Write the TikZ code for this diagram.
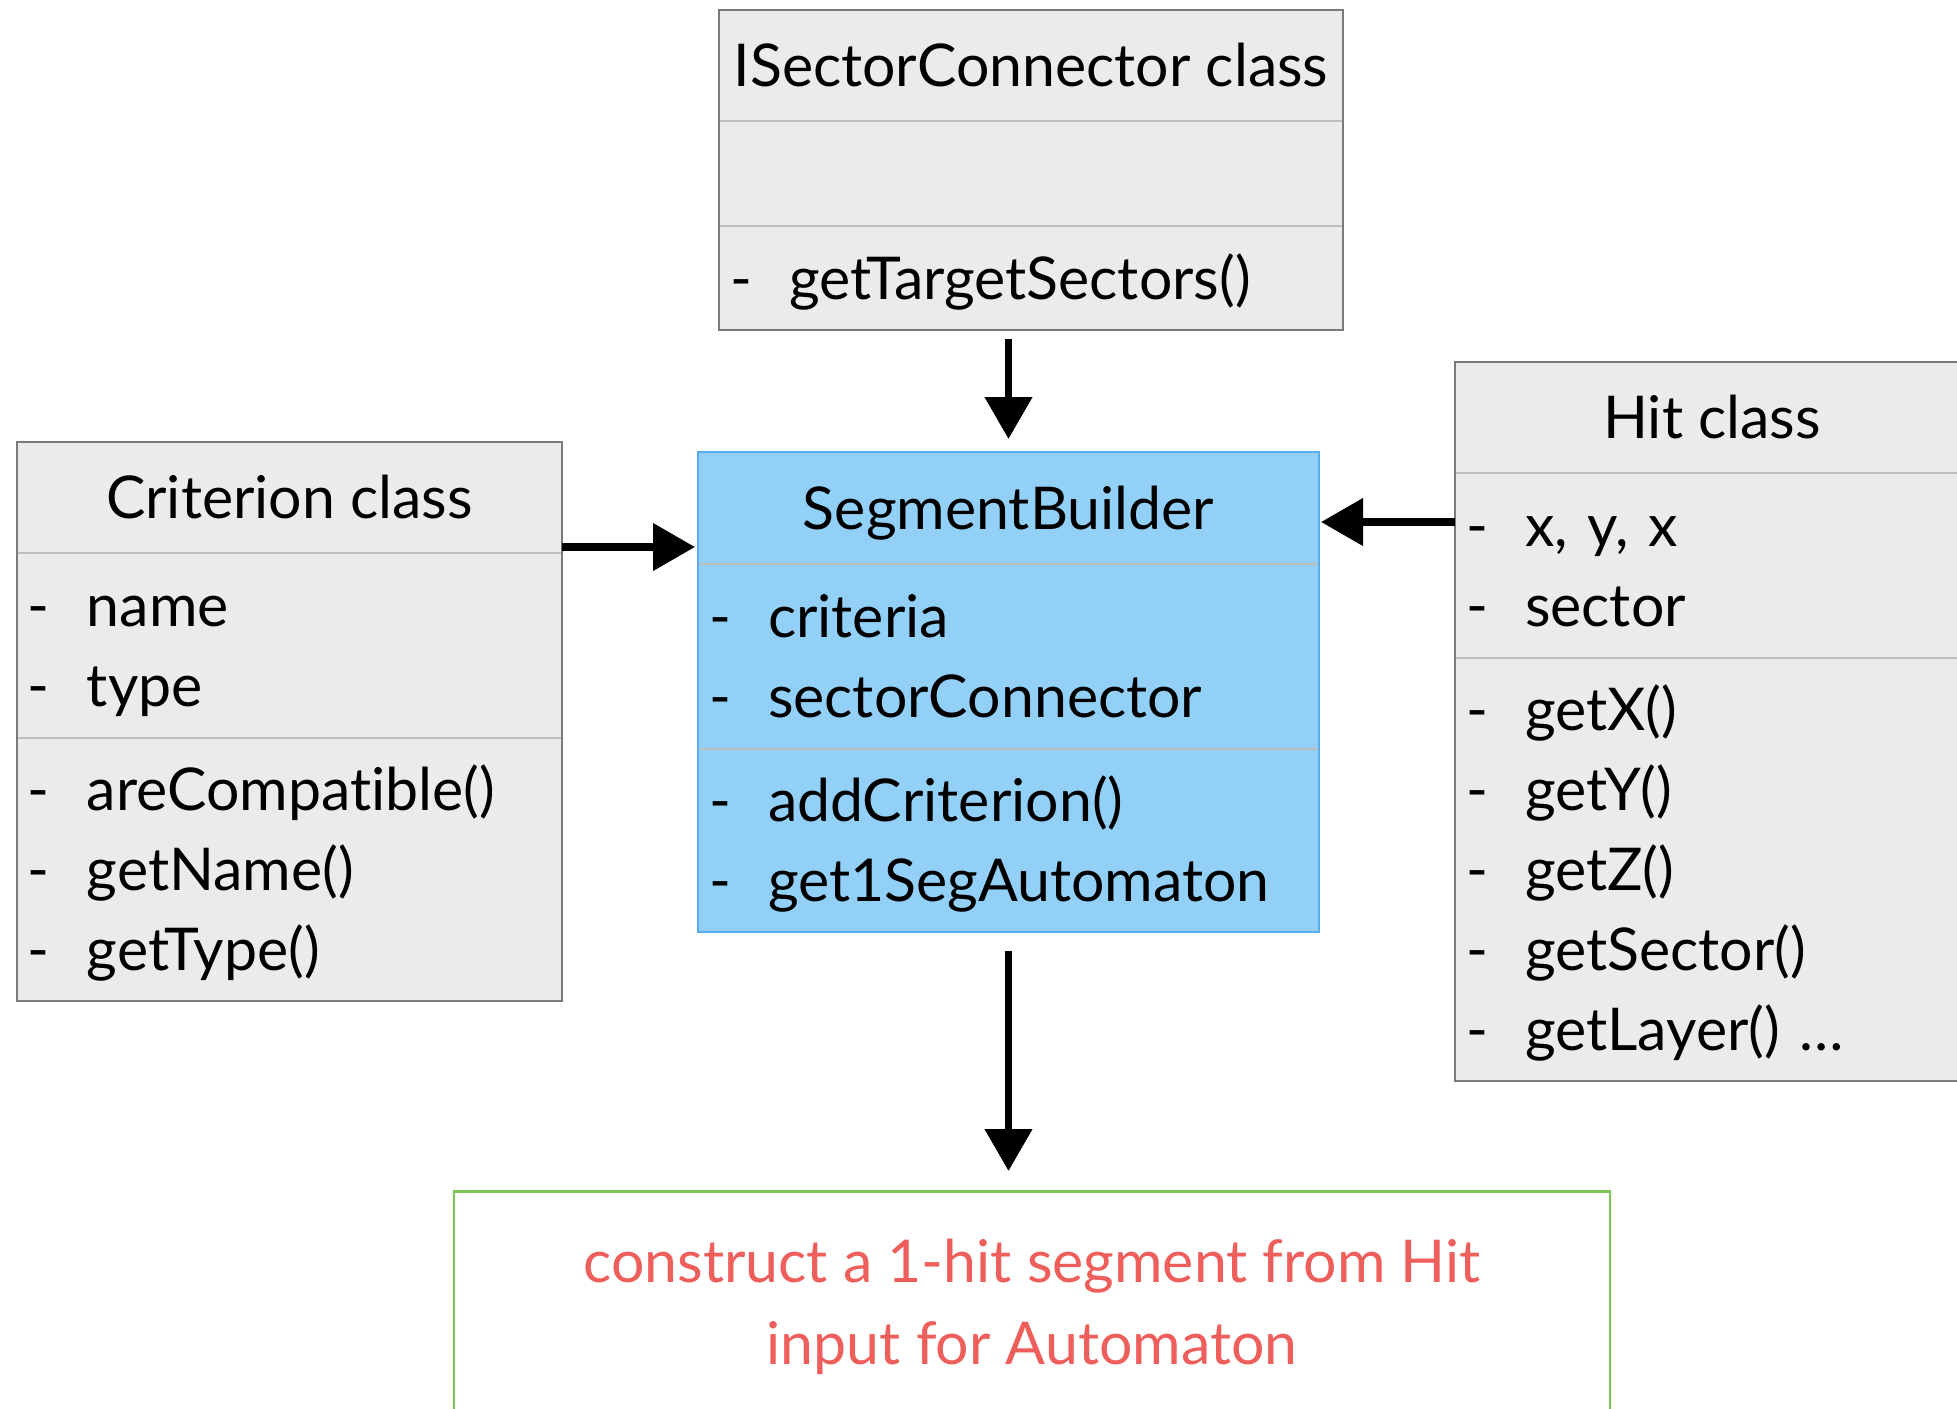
\documentclass[tikz,border=0pt]{standalone}
\usepackage{fontspec}
\setmainfont{Lato}[Ligatures=NoCommon]
\usetikzlibrary{arrows.meta, positioning}

\definecolor{boxgray}{HTML}{EBEBEB}
\definecolor{edgegray}{HTML}{7A7A7A}
\definecolor{rulegray}{HTML}{BDBDBD}
\definecolor{sbblue}{HTML}{92D0F7}
\definecolor{sbedge}{HTML}{5AAEEF}
\definecolor{resred}{HTML}{EE5F5B}
\definecolor{resgreen}{HTML}{7BC653}

\newcommand{\linestrut}{\rule[-9.5pt]{0pt}{40pt}}
\newcommand{\mem}[1]{\linestrut\hspace*{5.5pt}\makebox[29.5pt][l]{-}#1}

\begin{document}
\begin{tikzpicture}[
      x=0.5pt, y=-0.5pt,
      node distance=0pt,
      part/.style={
          rectangle,
          inner sep=0pt,
          outer sep=0pt,
          fill=boxgray,
          font=\fontsize{29.5}{40}\selectfont
        },
      title/.style={
          part,
          align=center
        },
      members/.style={
          part,
          align=left
        },
      frame/.style={
          draw=edgegray,
          line width=1.4pt
        },
      divider/.style={
          draw=rulegray,
          line width=1pt
        },
      arrow/.style={
          -{Triangle[length=21pt,width=23pt]},
          line width=3.8pt
        }
    ]

    \useasboundingbox (0,0) rectangle (1957,1408);

    % ISectorConnector
    \node[title, minimum width=312pt, minimum height=55.5pt, anchor=north] (isc-title) at (1031,10) {\linestrut ISectorConnector class};
    \node[members, text width=312pt, minimum height=52.5pt, below=of isc-title] (isc-attr) {};
    \node[members, text width=312pt, minimum height=52pt, below=of isc-attr] (isc-meth) {\mem{getTargetSectors()}};

    % Criterion
    \node[title, minimum width=272.5pt, minimum height=55.5pt, anchor=north] (crit-title) at (289.5,442) {\linestrut Criterion class};
    \node[members, text width=272.5pt, minimum height=92.5pt, below=of crit-title] (crit-attr) {\mem{name}\\ \mem{type}};
    \node[members, text width=272.5pt, minimum height=131.5pt, below=of crit-attr] (crit-meth) {\mem{areCompatible()}\\ \mem{getName()}\\ \mem{getType()}};

    % SegmentBuilder
    \node[title, fill=sbblue, minimum width=310.5pt, minimum height=56pt, anchor=north] (sb-title) at (1008.5,452) {\linestrut SegmentBuilder};
    \node[members, fill=sbblue, text width=310.5pt, minimum height=92.5pt, below=of sb-title] (sb-attr) {\mem{criteria}\\ \mem{sectorConnector}};
    \node[members, fill=sbblue, text width=310.5pt, minimum height=91.5pt, below=of sb-attr] (sb-meth) {\mem{addCriterion()}\\ \mem{get1SegAutomaton}};

    % Hit
    \node[title, minimum width=257pt, minimum height=55.5pt, anchor=north] (hit-title) at (1712,362) {\linestrut Hit class};
    \node[members, text width=257pt, minimum height=92.5pt, below=of hit-title] (hit-attr) {\mem{x, y, x}\\ \mem{sector}};
    \node[members, text width=257pt, minimum height=211.5pt, below=of hit-attr] (hit-meth) {\mem{getX()}\\ \mem{getY()}\\ \mem{getZ()}\\ \mem{getSector()}\\ \mem{getLayer() \ldots}};

    % Result
    \node[rectangle, draw=resgreen, line width=1.3pt, text=resred, align=center,
          minimum width=578pt, minimum height=111pt, anchor=north,
          font=\fontsize{29.5}{39.5}\selectfont] (res) at (1032,1190)
          {\linestrut construct a 1-hit segment from Hit\\ \linestrut input for Automaton};

    % Frames
    \foreach \c in {isc, crit, hit} {
        \draw[divider] (\c-attr.north west) -- (\c-attr.north east);
        \draw[divider] (\c-meth.north west) -- (\c-meth.north east);
        \draw[frame] (\c-title.north west) rectangle (\c-meth.south east);
      }
    \draw[divider] (sb-attr.north west) -- (sb-attr.north east);
    \draw[divider] (sb-meth.north west) -- (sb-meth.north east);
    \draw[frame, draw=sbedge, line width=1.2pt] (sb-title.north west) rectangle (sb-meth.south east);

    % Arrows
    \draw[arrow, shorten <=4.5pt, shorten >=6.5pt] (sb-title.north |- isc-meth.south) -- (sb-title.north);
    \draw[arrow, shorten >=1.5pt] ([yshift=3pt]crit-title.south east) -- ([yshift=-19.5pt]sb-title.west);
    \draw[arrow, shorten >=1pt] ([yshift=-24.5pt]hit-attr.north west) -- ([yshift=-7pt]sb-title.east);
    \draw[arrow, shorten <=9.5pt, shorten >=9.5pt] (sb-meth.south) -- (sb-meth.south |- res.north);

  \end{tikzpicture}
\end{document}
